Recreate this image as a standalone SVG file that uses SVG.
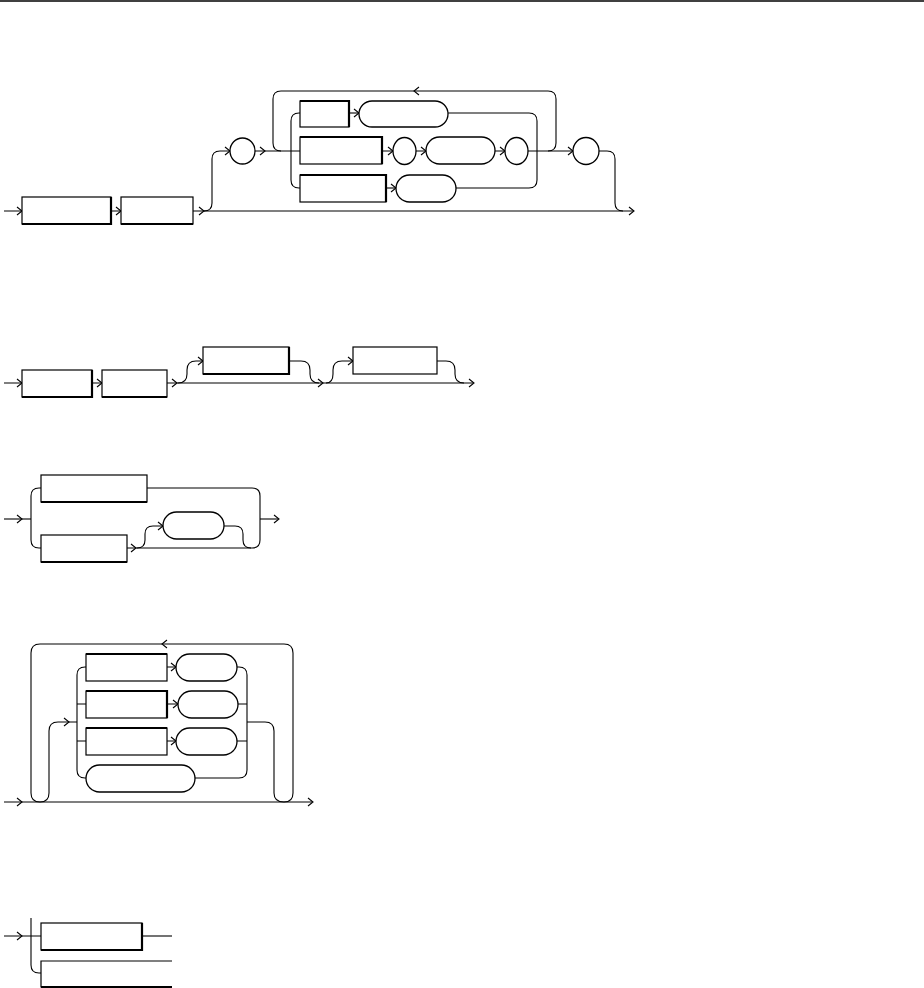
<svg xmlns="http://www.w3.org/2000/svg" xmlns:xlink="http://www.w3.org/1999/xlink" width="924" height="988" viewBox="0 0 924 988">
<style>
.b{fill:#fff;stroke:#000;stroke-width:1.2}
.s{fill:none;stroke:#000;stroke-width:2.2}
.t{fill:#fff;stroke:#000;stroke-width:1.3}
.c{fill:none;stroke:#000;stroke-width:1.1}
.a{fill:none;stroke:#000;stroke-width:1.1}
</style>
<defs>
<path id="ar" class="a" d="M-5,-4 L0,0 L-5,4"/>
<path id="al" class="a" d="M5,-4 L0,0 L5,4"/>
</defs>
<rect width="924" height="988" fill="#fff"/>
<line x1="0" y1="1" x2="924" y2="1" stroke="#000" stroke-width="1.5"/>
<g id="connectors">
<!-- diagram 1 -->
<path class="c" d="M4,211 H633"/>
<path class="c" d="M204,211 Q212,211 212,203 V159 Q212,151 220,151 H230"/>
<path class="c" d="M255,151 H300"/>
<path class="c" d="M548,151 Q556,151 556,143 V99 Q556,91 548,91 H281 Q273,91 273,99 V143 Q273,151 281,151"/>
<path class="c" d="M300,113 H299 Q291,113 291,121 V180 Q291,188 299,188 H300"/>
<path class="c" d="M349,113 H359"/>
<path class="c" d="M448,113 H529 Q537,113 537,121 V180 Q537,188 529,188 H456"/>
<path class="c" d="M382,151 H393 M416,151 H426 M495,151 H505 M528,151 H573"/>
<path class="c" d="M386,188 H396"/>
<path class="c" d="M599,151 H607 Q615,151 615,159 V203 Q615,211 623,211"/>
<use xlink:href="#ar" x="22" y="211"/>
<use xlink:href="#ar" x="121" y="211"/>
<use xlink:href="#ar" x="204" y="211"/>
<use xlink:href="#ar" x="230" y="151"/>
<use xlink:href="#ar" x="265" y="151"/>
<use xlink:href="#ar" x="359" y="113"/>
<use xlink:href="#ar" x="393" y="151"/>
<use xlink:href="#ar" x="426" y="151"/>
<use xlink:href="#ar" x="505" y="151"/>
<use xlink:href="#ar" x="573" y="151"/>
<use xlink:href="#ar" x="396" y="188"/>
<use xlink:href="#ar" x="634" y="211"/>
<use xlink:href="#al" x="414" y="91"/>
<!-- diagram 2 -->
<path class="c" d="M4,383 H473"/>
<path class="c" d="M178,383 Q187,383 187,374 V370 Q187,361 196,361 H203"/>
<path class="c" d="M289,361 H301 Q310,361 310,370 V374 Q310,383 319,383"/>
<path class="c" d="M326,383 Q333,383 333,374 V370 Q333,361 342,361 H353"/>
<path class="c" d="M437,361 H446 Q455,361 455,370 V374 Q455,383 464,383"/>
<use xlink:href="#ar" x="22" y="383"/>
<use xlink:href="#ar" x="102" y="383"/>
<use xlink:href="#ar" x="177" y="383"/>
<use xlink:href="#ar" x="203" y="361"/>
<use xlink:href="#ar" x="323" y="383"/>
<use xlink:href="#ar" x="353" y="361"/>
<use xlink:href="#ar" x="474" y="383"/>
<!-- diagram 3 -->
<path class="c" d="M4,519 H31"/>
<path class="c" d="M41,488 H39 Q31,488 31,496 V540 Q31,548 39,548 H41"/>
<path class="c" d="M147,488 H252 Q260,488 260,496 V540 Q260,548 252,548 H127"/>
<path class="c" d="M260,519 H278"/>
<path class="c" d="M137,548 Q145,548 145,540 V534 Q145,526 153,526 H163"/>
<path class="c" d="M224,526 H235 Q243,526 243,534 V540 Q243,548 251,548"/>
<use xlink:href="#ar" x="22" y="519"/>
<use xlink:href="#ar" x="279" y="519"/>
<use xlink:href="#ar" x="136" y="548"/>
<use xlink:href="#ar" x="163" y="526"/>
<!-- diagram 4 -->
<path class="c" d="M4,802 H312"/>
<path class="c" d="M284,802 Q293,802 293,793 V653 Q293,644 284,644 H40 Q31,644 31,653 V793 Q31,802 40,802"/>
<path class="c" d="M40,802 Q49,802 49,793 V731 Q49,722 58,722 H77"/>
<path class="c" d="M86,667 H85 Q77,667 77,675 V770 Q77,778 85,778 H86"/>
<path class="c" d="M77,704 H86 M77,741 H86"/>
<path class="c" d="M167,667 H176 M167,704 H178 M167,741 H176"/>
<path class="c" d="M237,667 H239 Q247,667 247,675 V770 Q247,778 239,778 H195"/>
<path class="c" d="M238,704 H247 M237,741 H247"/>
<path class="c" d="M247,722 H265 Q274,722 274,731 V793 Q274,802 284,802"/>
<use xlink:href="#ar" x="22" y="802"/>
<use xlink:href="#ar" x="313" y="802"/>
<use xlink:href="#al" x="162" y="644"/>
<use xlink:href="#ar" x="69" y="722"/>
<use xlink:href="#ar" x="176" y="667"/>
<use xlink:href="#ar" x="178" y="704"/>
<use xlink:href="#ar" x="176" y="741"/>
<!-- diagram 5 -->
<path class="c" d="M4,936 H41"/>
<path class="c" d="M31,918 V965 Q31,973 39,973 H41"/>
<path class="c" d="M142,936 H172"/>
<use xlink:href="#ar" x="22" y="936"/>
</g>
<!-- diagram 1 nodes -->
<g id="d1n1"><rect class="b" x="22" y="197" width="89" height="27"/><path class="s" d="M22,224 H111 V197"/></g>
<g id="d1n2"><rect class="b" x="121" y="197" width="72" height="27"/><path class="s" d="M121,224 H193"/></g>
<g id="d1n3"><ellipse class="t" cx="242.5" cy="151" rx="12.5" ry="13"/></g>
<g id="d1n4"><rect class="b" x="300" y="101" width="49" height="26"/><path class="s" d="M300,101 H349 V127"/></g>
<g id="d1n5"><rect class="t" x="359" y="101" width="89" height="26" rx="13"/></g>
<g id="d1n6"><rect class="b" x="300" y="137" width="82" height="27"/><path class="s" d="M300,137 H382 V164"/></g>
<g id="d1n7"><ellipse class="t" cx="404.5" cy="151" rx="11.5" ry="13.5"/></g>
<g id="d1n8"><rect class="t" x="426" y="137" width="69" height="27" rx="13.5"/></g>
<g id="d1n9"><ellipse class="t" cx="516.5" cy="151" rx="11.5" ry="13.5"/></g>
<g id="d1n10"><rect class="b" x="300" y="175" width="86" height="27"/><path class="s" d="M300,175 H386 V202"/></g>
<g id="d1n11"><rect class="t" x="396" y="175" width="60" height="27" rx="13.5"/></g>
<g id="d1n12"><ellipse class="t" cx="586" cy="151" rx="13" ry="13.5"/></g>
<!-- diagram 2 nodes -->
<g id="d2n1"><rect class="b" x="22" y="370" width="70" height="27"/><path class="s" d="M22,397 H92 V370"/></g>
<g id="d2n2"><rect class="b" x="102" y="370" width="65" height="27"/><path class="s" d="M102,397 H167"/></g>
<g id="d2n3"><rect class="b" x="203" y="347" width="86" height="27"/><path class="s" d="M203,374 H289 V347"/></g>
<g id="d2n4"><rect class="b" x="353" y="347" width="84" height="27"/></g>
<!-- diagram 3 nodes -->
<g id="d3n1"><rect class="b" x="41" y="475" width="106" height="27"/><path class="s" d="M41,502 H147"/></g>
<g id="d3n2"><rect class="b" x="41" y="535" width="86" height="27"/><path class="s" d="M41,562 H127"/></g>
<g id="d3n3"><rect class="t" x="163" y="512" width="61" height="27" rx="13.5"/></g>
<!-- diagram 4 nodes -->
<g id="d4n1"><rect class="b" x="86" y="654" width="81" height="27"/><path class="s" d="M86,654 H167"/></g>
<g id="d4n2"><rect class="t" x="176" y="654" width="61" height="27" rx="13.5"/></g>
<g id="d4n3"><rect class="b" x="86" y="691" width="81" height="27"/><path class="s" d="M86,691 H167 V718"/></g>
<g id="d4n4"><rect class="t" x="178" y="691" width="60" height="27" rx="13.5"/></g>
<g id="d4n5"><rect class="b" x="86" y="728" width="81" height="27"/><path class="s" d="M86,728 H167"/></g>
<g id="d4n6"><rect class="t" x="176" y="728" width="61" height="27" rx="13.5"/></g>
<g id="d4n7"><rect class="t" x="86" y="765" width="109" height="27" rx="13.5"/></g>
<!-- diagram 5 nodes -->
<g id="d5n1"><rect class="b" x="41" y="923" width="101" height="27"/><path class="s" d="M41,950 H142 V923"/></g>
<g id="d5n2"><path class="b" fill="none" d="M172,961 H41 V987 H172"/><path class="s" d="M41,987 H172"/></g>
</svg>
